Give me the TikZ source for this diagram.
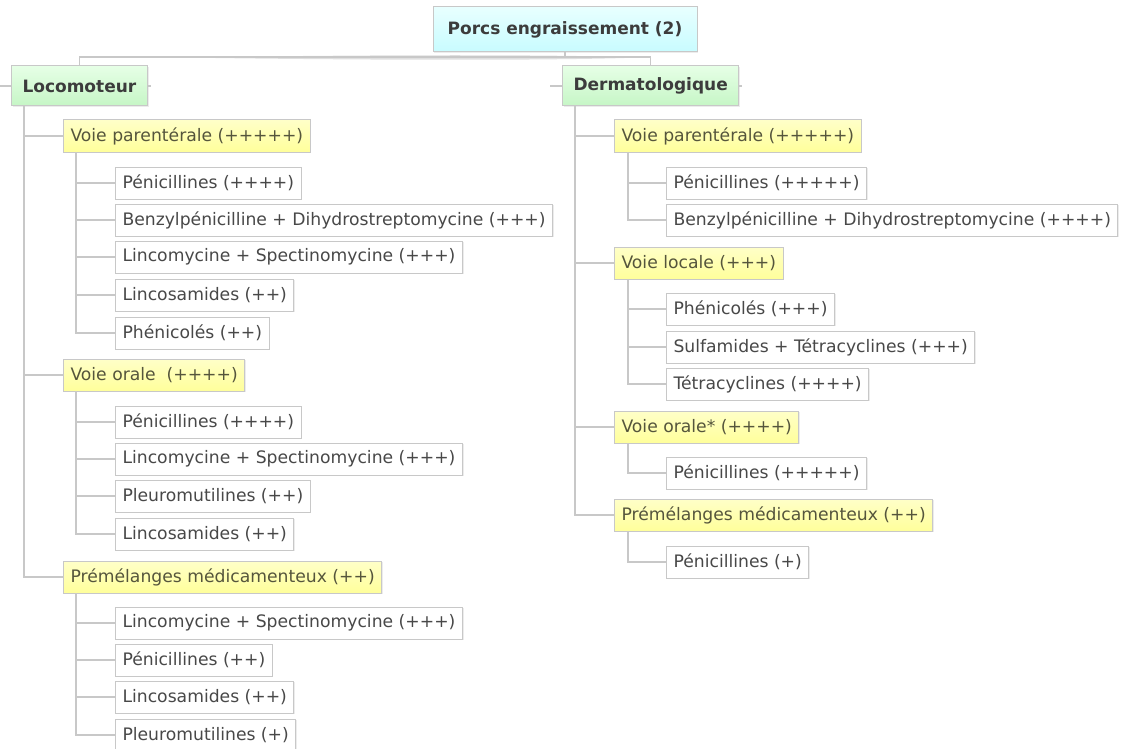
\documentclass[tikz,border=0pt]{standalone}
\usepackage{fontspec}
\setmainfont{DejaVu Sans}
\usetikzlibrary{shadows}
\definecolor{bordc}{RGB}{200,200,200}
\definecolor{linec}{RGB}{200,200,200}
\definecolor{txtc}{RGB}{72,72,72}
\definecolor{yeltxt}{RGB}{85,85,60}
\definecolor{boldtxt}{RGB}{60,60,60}
\definecolor{yel1}{RGB}{255,255,200}
\definecolor{yel2}{RGB}{255,255,155}
\definecolor{grn1}{RGB}{230,255,230}
\definecolor{grn2}{RGB}{198,246,198}
\definecolor{cya1}{RGB}{232,255,255}
\definecolor{cya2}{RGB}{200,252,255}
\begin{document}
\begin{tikzpicture}[x=1pt,y=-1pt,
  base/.style={draw=bordc, line width=1pt, anchor=west, minimum height=32pt,
    inner xsep=7pt, inner ysep=1pt, font=\fontsize{17.2}{20}\selectfont, text=txtc,
    drop shadow={shadow xshift=1.2pt, shadow yshift=-1.2pt, opacity=0.15}},
  leaf/.style={base, fill=white},
  route/.style={base, top color=yel1, bottom color=yel2, text=yeltxt},
  cat/.style={base, minimum height=40pt, inner xsep=11pt, top color=grn1, bottom color=grn2,
    text=boldtxt, font=\fontsize{17}{20}\selectfont\bfseries},
  rootbox/.style={cat, anchor=center, minimum height=45pt, minimum width=264pt,
    top color=cya1, bottom color=cya2},
  conn/.style={draw=linec, line width=1.5pt}
]
\useasboundingbox (0,0) rectangle (1121,749);

% nodes
\node[rootbox] (root) at (565,29.5) {Porcs engraissement (2)};
\node[cat] (loco) at (11,86) {Locomoteur};
\node[cat] (derm) at (562,86) {Dermatologique};

% left branch
\node[route] (lvp) at (63,136) {Voie parentérale (+++++)};
\node[leaf] (l1) at (115,183) {Pénicillines (++++)};
\node[leaf] (l2) at (115,220) {Benzylpénicilline + Dihydrostreptomycine (+++)};
\node[leaf] (l3) at (115,257) {Lincomycine + Spectinomycine (+++)};
\node[leaf] (l4) at (115,295) {Lincosamides (++)};
\node[leaf] (l5) at (115,333) {Phénicolés (++)};

\node[route] (lvo) at (63,375) {Voie orale\ \ (++++)};
\node[leaf] (l6) at (115,422) {Pénicillines (++++)};
\node[leaf] (l7) at (115,459) {Lincomycine + Spectinomycine (+++)};
\node[leaf] (l8) at (115,496) {Pleuromutilines (++)};
\node[leaf] (l9) at (115,534) {Lincosamides (++)};

\node[route] (lpm) at (63,577) {Prémélanges médicamenteux (++)};
\node[leaf] (l10) at (115,623) {Lincomycine + Spectinomycine (+++)};
\node[leaf] (l11) at (115,660) {Pénicillines (++)};
\node[leaf] (l12) at (115,697) {Lincosamides (++)};
\node[leaf] (l13) at (115,735) {Pleuromutilines (+)};

% right branch
\node[route] (rvp) at (614,136) {Voie parentérale (+++++)};
\node[leaf] (r1) at (666,183) {Pénicillines (+++++)};
\node[leaf] (r2) at (666,220) {Benzylpénicilline + Dihydrostreptomycine (++++)};

\node[route] (rvl) at (614,263) {Voie locale (+++)};
\node[leaf] (r3) at (666,309) {Phénicolés (+++)};
\node[leaf] (r4) at (666,347) {Sulfamides + Tétracyclines (+++)};
\node[leaf] (r5) at (666,384) {Tétracyclines (++++)};

\node[route] (rvo) at (614,427) {Voie orale* (++++)};
\node[leaf] (r6) at (666,473) {Pénicillines (+++++)};

\node[route] (rpm) at (614,515) {Prémélanges médicamenteux (++)};
\node[leaf] (r7) at (666,562) {Pénicillines (+)};

% top connectors
\coordinate (j) at (565,57);
\fill[gray, opacity=0.25] (180,57.5) .. controls (380,54.5) and (560,54.5) .. (640,57.5)
  .. controls (560,60.5) and (380,60.5) .. (180,57.5) -- cycle;
\draw[conn, line width=1.2pt] (root.south) -- (j);
\draw[conn, line width=1.2pt] (j) -| (loco.north);
\draw[conn, line width=1.2pt] (j) -| (derm.north);

% stubs
\draw[conn, line width=1.2pt] (loco.west) -- ++(-11,0);
\draw[conn, line width=1.2pt] (loco.east) -- ++(3,0);
\draw[conn, line width=1.2pt] (derm.west) -- ++(-12,0);
\draw[conn, line width=1.2pt] (derm.east) -- ++(3,0);

% left trunk
\foreach \n in {lvp,lvo,lpm} \draw[conn] (loco.south west) ++(13,0) |- (\n.west);
\foreach \n in {l1,l2,l3,l4,l5} \draw[conn] (lvp.south west) ++(13,0) |- (\n.west);
\foreach \n in {l6,l7,l8,l9} \draw[conn] (lvo.south west) ++(13,0) |- (\n.west);
\foreach \n in {l10,l11,l12,l13} \draw[conn] (lpm.south west) ++(13,0) |- (\n.west);

% right trunk
\foreach \n in {rvp,rvl,rvo,rpm} \draw[conn] (derm.south west) ++(13,0) |- (\n.west);
\foreach \n in {r1,r2} \draw[conn] (rvp.south west) ++(14,0) |- (\n.west);
\foreach \n in {r3,r4,r5} \draw[conn] (rvl.south west) ++(14,0) |- (\n.west);
\foreach \n in {r6} \draw[conn] (rvo.south west) ++(14,0) |- (\n.west);
\foreach \n in {r7} \draw[conn] (rpm.south west) ++(14,0) |- (\n.west);
\end{tikzpicture}
\end{document}
